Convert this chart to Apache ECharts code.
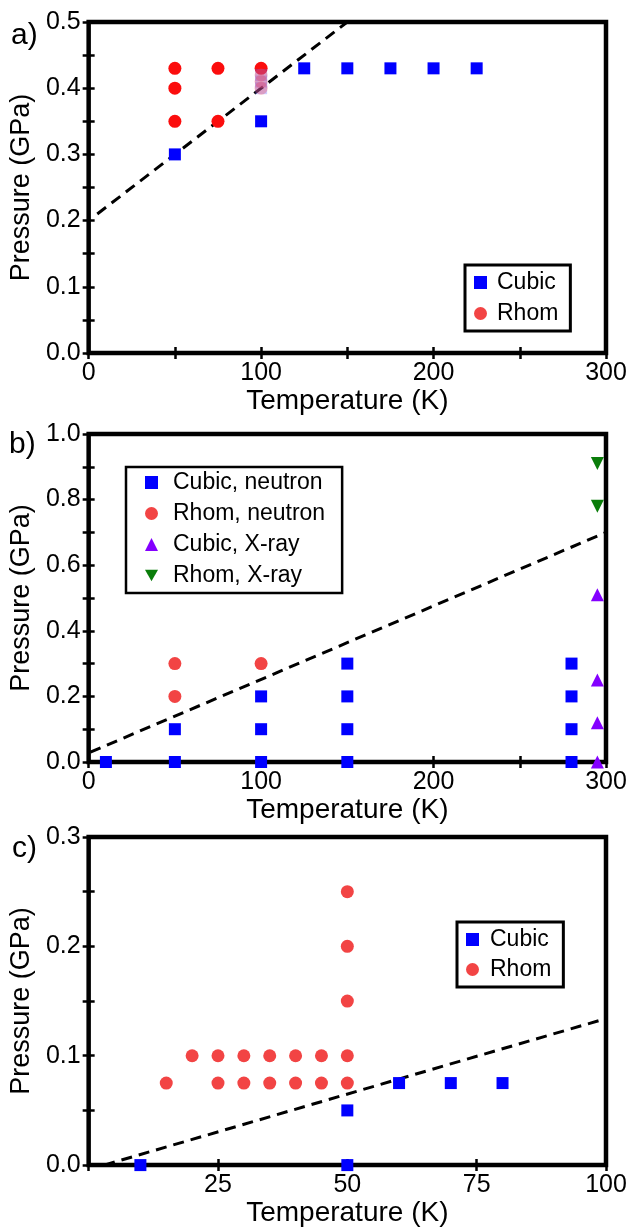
<!DOCTYPE html>
<html>
<head>
<meta charset="utf-8">
<script src="https://cdn.jsdelivr.net/npm/echarts@6/dist/echarts.min.js"></script>
<style>
  html, body { margin: 0; padding: 0; background: #fff; }
  #chart { width: 633px; height: 1228px; }
</style>
</head>
<body>
<div id="chart"></div>
<script>
// ---------- Panel a ----------
const aCubicT = [50, 100, 125, 150, 175, 200, 225];
const aCubicP = [0.30, 0.35, 0.43, 0.43, 0.43, 0.43, 0.43];
const aRhomT = [50, 50, 50, 75, 75, 100];
const aRhomP = [0.43, 0.40, 0.35, 0.43, 0.35, 0.43];
const aOverlapT = [100, 100, 100];
const aOverlapP = [0.42, 0.41, 0.40];
const aLineT = [5, 150];
const aLineP = [0.21, 0.50];

// ---------- Panel b ----------
const bCubicNT = [10, 50, 50, 100, 100, 100, 150, 150, 150, 150, 280, 280, 280, 280];
const bCubicNP = [0, 0, 0.1, 0, 0.1, 0.2, 0, 0.1, 0.2, 0.3, 0, 0.1, 0.2, 0.3];
const bRhomNT = [50, 50, 100];
const bRhomNP = [0.2, 0.3, 0.3];
const bCubicXT = [295, 295, 295, 295];
const bCubicXP = [0.0, 0.12, 0.25, 0.51];
const bRhomXT = [295, 295];
const bRhomXP = [0.78, 0.91];
const bLineT = [1, 300];
const bLineP = [0.03, 0.70];

// ---------- Panel c ----------
const cCubicT = [10, 50, 50, 60, 70, 80];
const cCubicP = [0, 0, 0.05, 0.075, 0.075, 0.075];
const cRhomT = [20, 25, 30, 35, 40, 45, 50, 15, 25, 30, 35, 40, 45, 50, 50, 50, 50];
const cRhomP = [0.1, 0.1, 0.1, 0.1, 0.1, 0.1, 0.1, 0.075, 0.075, 0.075, 0.075, 0.075, 0.075, 0.075, 0.15, 0.2, 0.25];
const cLineT = [3, 100];
const cLineP = [0, 0.134];

// tick labels
const xLabelsA = [0, 100, 200, 300];
const xLabelsB = [0, 100, 200, 300];
const xLabelsC = [25, 50, 75, 100];
const yLabelsA = ['0.0', '0.1', '0.2', '0.3', '0.4', '0.5'];
const yLabelsB = ['0.0', '0.2', '0.4', '0.6', '0.8', '1.0'];
const yLabelsC = ['0.0', '0.1', '0.2', '0.3'];

const zip = (xs, ys) => xs.map((x, i) => [x, ys[i]]);

const FONT = 'Liberation Sans';
const BLUE = '#0000ff';
const RED = '#f24444';
const RED_A = '#fb0d0d';
const PURPLE = '#8400ff';
const GREEN = '#0a7d0a';
const INV_TRI = 'path://M0,0L2,0L1,1.732Z';

function xAx(grid, min, max, interval, labels, name, top) {
  return {
    type: 'value', gridIndex: grid, min: min, max: max, interval: interval,
    position: top ? 'top' : 'bottom',
    name: top ? '' : name, nameLocation: 'middle', nameGap: 33,
    nameTextStyle: { fontFamily: FONT, fontSize: 28, color: '#000' },
    axisLine: { show: false },
    axisTick: { show: true, inside: true, length: 6, lineStyle: { color: '#000', width: 2.5 } },
    axisLabel: {
      show: !top, margin: 8, fontFamily: FONT, fontSize: 25, color: '#000',
      formatter: v => labels.indexOf(Math.round(v)) >= 0 ? String(Math.round(v)) : ''
    },
    splitLine: { show: false }
  };
}
function yAx(grid, min, max, interval, labels, name, right) {
  return {
    type: 'value', gridIndex: grid, min: min, max: max, interval: interval,
    position: right ? 'right' : 'left',
    name: right ? '' : name, nameLocation: 'middle', nameGap: 50,
    nameTextStyle: { fontFamily: FONT, fontSize: 27, color: '#000' },
    axisLine: { show: false },
    axisTick: { show: true, inside: true, length: 6, lineStyle: { color: '#000', width: 2.5 } },
    axisLabel: {
      show: !right, margin: 8, fontFamily: FONT, fontSize: 25, color: '#000',
      formatter: v => { const s = v.toFixed(1); return (labels.indexOf(s) >= 0 && Math.abs(v - parseFloat(s)) < 1e-6) ? s : ''; }
    },
    splitLine: { show: false }
  };
}

function scatter(name, data, xi, yi, symbol, size, color, extra) {
  return Object.assign({
    name: name, type: 'scatter', xAxisIndex: xi, yAxisIndex: yi,
    symbol: symbol, symbolSize: size, data: data,
    itemStyle: { color: color, opacity: 1 }, z: 3
  }, extra || {});
}
function dashed(data, xi, yi) {
  return {
    type: 'line', xAxisIndex: xi, yAxisIndex: yi, data: data, symbol: 'none',
    lineStyle: { color: '#000', width: 3, type: [11, 7] }, z: 2, silent: true
  };
}

const legendText = { fontFamily: FONT, fontSize: 23, color: '#000' };

const option = {
  animation: false,
  backgroundColor: '#fff',
  grid: [
    { left: 86, right: 27, top: 22, height: 331, show: true, borderColor: '#000', borderWidth: 4.5, containLabel: false },
    { left: 86, right: 27, top: 434, height: 328, show: true, borderColor: '#000', borderWidth: 4.5, containLabel: false },
    { left: 86, right: 27, top: 837, height: 332, show: true, borderColor: '#000', borderWidth: 4.5, containLabel: false }
  ],
  xAxis: [
    xAx(0, 0, 300, 50, xLabelsA, 'Temperature (K)', false),
    xAx(1, 0, 300, 50, xLabelsB, 'Temperature (K)', false),
    xAx(2, 0, 100, 25, xLabelsC, 'Temperature (K)', false),
    xAx(0, 0, 300, 50, xLabelsA, '', true),
    xAx(1, 0, 300, 50, xLabelsB, '', true),
    xAx(2, 0, 100, 25, xLabelsC, '', true)
  ],
  yAxis: [
    yAx(0, 0, 0.5, 0.05, yLabelsA, 'Pressure (GPa)', false),
    yAx(1, 0, 1.0, 0.1, yLabelsB, 'Pressure (GPa)', false),
    yAx(2, 0, 0.3, 0.05, yLabelsC, 'Pressure (GPa)', false),
    yAx(0, 0, 0.5, 0.05, yLabelsA, '', true),
    yAx(1, 0, 1.0, 0.1, yLabelsB, '', true),
    yAx(2, 0, 0.3, 0.05, yLabelsC, '', true)
  ],
  legend: [
    {
      left: 465, top: 265, orient: 'vertical', itemGap: 8, itemWidth: 13, itemHeight: 13,
      padding: [6, 12, 6, 9], borderColor: '#000', borderWidth: 3, backgroundColor: '#fff',
      textStyle: Object.assign({ padding: [0, 0, 0, 5] }, legendText),
      selectedMode: false,
      data: [
        { name: 'Cubic', icon: 'rect', itemStyle: { color: BLUE } },
        { name: 'Rhom', icon: 'circle', itemStyle: { color: RED } }
      ]
    },
    {
      left: 126, top: 467, orient: 'vertical', itemGap: 8, itemWidth: 13, itemHeight: 13,
      padding: [4, 17, 6, 19], borderColor: '#000', borderWidth: 2.5, backgroundColor: '#fff',
      textStyle: Object.assign({ padding: [0, 0, 0, 10] }, legendText),
      selectedMode: false,
      data: [
        { name: 'Cubic, neutron', icon: 'rect' },
        { name: 'Rhom, neutron', icon: 'circle' },
        { name: 'Cubic, X-ray', icon: 'triangle' },
        { name: 'Rhom, X-ray', icon: INV_TRI }
      ]
    },
    {
      left: 457, top: 922, orient: 'vertical', itemGap: 7, itemWidth: 13, itemHeight: 13,
      padding: [6, 12, 6, 9], borderColor: '#000', borderWidth: 3, backgroundColor: '#fff',
      textStyle: Object.assign({ padding: [0, 0, 0, 6] }, legendText),
      selectedMode: false,
      data: [
        { name: 'Cubic ', icon: 'rect' },
        { name: 'Rhom ', icon: 'circle' }
      ],
      formatter: n => n.trim()
    }
  ],
  graphic: [
    { type: 'text', left: 11, top: 21, style: { text: 'a)', fontFamily: FONT, fontSize: 30, fill: '#000' } },
    { type: 'text', left: 9, top: 430, style: { text: 'b)', fontFamily: FONT, fontSize: 30, fill: '#000' } },
    { type: 'text', left: 12, top: 834, style: { text: 'c)', fontFamily: FONT, fontSize: 30, fill: '#000' } }
  ],
  series: [
    // panel a
    dashed(zip(aLineT, aLineP), 0, 0),
    scatter('Cubic', zip(aCubicT, aCubicP), 0, 0, 'rect', 12, BLUE),
    scatter('Rhom', zip(aRhomT, aRhomP), 0, 0, 'circle', 13, RED_A),
    scatter('overlap-c', zip(aOverlapT, aOverlapP), 0, 0, 'rect', 12, 'rgba(90,90,255,0.30)'),
    scatter('overlap-r', zip(aOverlapT, aOverlapP), 0, 0, 'circle', 13, 'rgba(240,70,90,0.35)'),
    // panel b
    dashed(zip(bLineT, bLineP), 1, 1),
    scatter('Cubic, neutron', zip(bCubicNT, bCubicNP), 1, 1, 'rect', 12, BLUE),
    scatter('Rhom, neutron', zip(bRhomNT, bRhomNP), 1, 1, 'circle', 13, RED),
    scatter('Cubic, X-ray', zip(bCubicXT, bCubicXP), 1, 1, 'triangle', 13, PURPLE),
    scatter('Rhom, X-ray', zip(bRhomXT, bRhomXP), 1, 1, INV_TRI, 13, GREEN),
    // panel c
    dashed(zip(cLineT, cLineP), 2, 2),
    scatter('Cubic ', zip(cCubicT, cCubicP), 2, 2, 'rect', 12, BLUE),
    scatter('Rhom ', zip(cRhomT, cRhomP), 2, 2, 'circle', 13, RED)
  ]
};

const chart = echarts.init(document.getElementById('chart'), null, { renderer: 'canvas' });
chart.setOption(option);
</script>
</body>
</html>
